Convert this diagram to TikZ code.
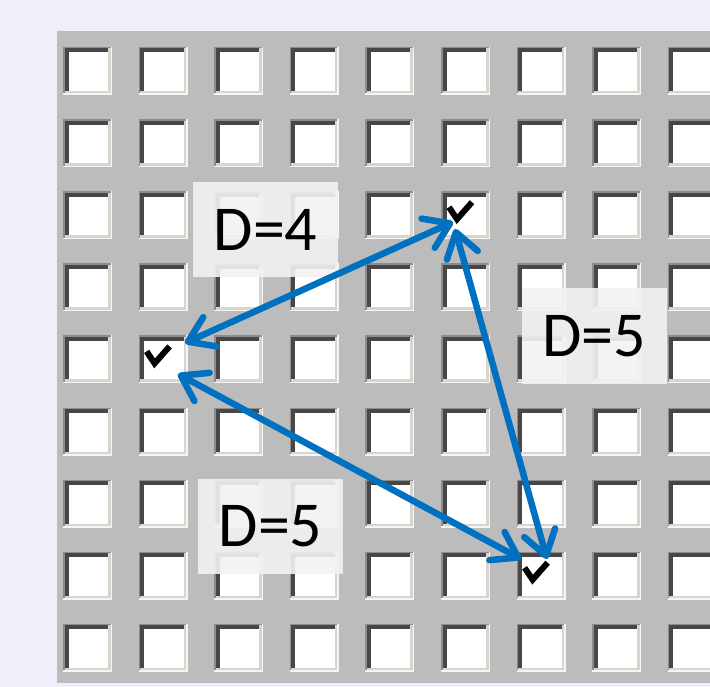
\documentclass[tikz,border=0pt]{standalone}
\usepackage{fontspec}
\setmainfont{Carlito}
\usetikzlibrary{arrows.meta}

\definecolor{pagebg}{HTML}{F1EDF9}
\definecolor{panelgray}{HTML}{BCBCBC}
\definecolor{rimlight}{HTML}{F6F5F0}
\definecolor{rimgray}{HTML}{8C8C8C}
\definecolor{rimshade}{HTML}{D7D5CD}
\definecolor{rimdark}{HTML}{474747}
\definecolor{arrowblue}{HTML}{0070C0}
\definecolor{labelfill}{HTML}{F2F2F2}

\tikzset{
  % sunken 3D checkbox, origin at its top-left corner
  cbox/.pic={
    \fill[rimlight] (0,0) rectangle (49,48);
    \fill[rimgray] (0,0) rectangle (47.5,46.5);
    \fill[rimshade] (1.5,1.5) rectangle (47.5,46.5);
    \fill[rimdark] (1.5,1.5) rectangle (45,44);
    \fill[white] (5.5,5.5) rectangle (45,44);
  },
  % tick mark drawn inside a checkbox
  tick/.pic={
    \draw[black, line width=6pt, line join=miter]
      (8,16) -- (16,28) -- (31,11);
  },
  distlabel/.style={
    fill=labelfill, fill opacity=0.9, text opacity=1,
    minimum width=145pt, minimum height=95pt, inner sep=0pt,
    font=\fontsize{64}{70}\selectfont
  },
  darrow/.style={
    draw=arrowblue, line width=6.5pt, line cap=round,
    {Straight Barb[length=24pt,width=32pt,round]}-{Straight Barb[length=24pt,width=32pt,round]}
  }
}

\begin{document}
\begin{tikzpicture}[x=1pt,y=-1pt]
  \useasboundingbox (0,0) rectangle (710,687);
  \fill[pagebg] (0,0) rectangle (710,687);

  % grey panel holding the checkbox grid
  \begin{scope}
    \clip (57,31) rectangle (710,683);
    \fill[panelgray] (57,31) rectangle (710,683);
    \foreach \i in {0,...,8} {
      \foreach \j in {0,...,8} {
        \pic at ({63+75.6*\i},{47+72.1*\j}) {cbox};
      }
    }
    \pic at ({63+75.6*5},{47+72.1*2}) {tick};
    \pic at ({63+75.6*1},{47+72.1*4}) {tick};
    \pic at ({63+75.6*6},{47+72.1*7}) {tick};
  \end{scope}

  % arrow end points beside the ticked boxes
  \coordinate (a1) at (185,343);
  \coordinate (a2) at (453,222);
  \coordinate (b1) at (455,229);
  \coordinate (b2) at (547,559);
  \coordinate (c1) at (178,374);
  \coordinate (c2) at (521,559);

  % distance labels
  \node[distlabel] (l4) at (265.5,229.5) {D=4};
  \node[distlabel] (l5r) at (594,336) {D=5};
  \node[distlabel] (l5b) at (270.5,526.5) {D=5};

  % double-headed distance arrows
  \draw[darrow] (a1) -- (a2);
  \draw[darrow] (b1) -- (b2);
  \draw[darrow] (c1) -- (c2);
\end{tikzpicture}
\end{document}
